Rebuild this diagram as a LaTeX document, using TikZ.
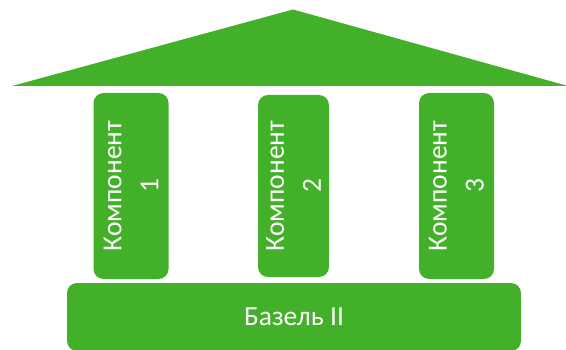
\documentclass[tikz,border=0pt]{standalone}
\usepackage{fontspec}
\setmainfont{Carlito}
\definecolor{basegreen}{HTML}{43B02A}
\tikzset{
	pillar/.style={fill=basegreen, rounded corners=10pt, rotate=90, align=center,
		text=white, inner sep=0pt, font=\fontsize{27.5}{37}\selectfont},
	plinth/.style={fill=basegreen, rounded corners=10pt, text=white, inner sep=0pt,
		minimum width=454pt, minimum height=68pt, font=\fontsize{27.5}{32}\selectfont}
}
\begin{document}
\begin{tikzpicture}[x=1pt,y=1pt]
			\useasboundingbox (0,0) rectangle (566,349);
			% roof
			\fill[basegreen] (12,263) -- (293,339.5) -- (568,263) -- cycle;
			% pillars
			\node[pillar, minimum width=186pt, minimum height=75pt] (komp1) at (131,163) {Компонент\\1};
			\node[pillar, minimum width=182pt, minimum height=71pt] (komp2) at (293.5,163) {Компонент\\2};
			\node[pillar, minimum width=186pt, minimum height=75pt] (komp3) at (456.5,163) {Компонент\\3};
			% base
			\node[plinth] (basel) at (294,32) {Базель II};
		\end{tikzpicture}
\end{document}
